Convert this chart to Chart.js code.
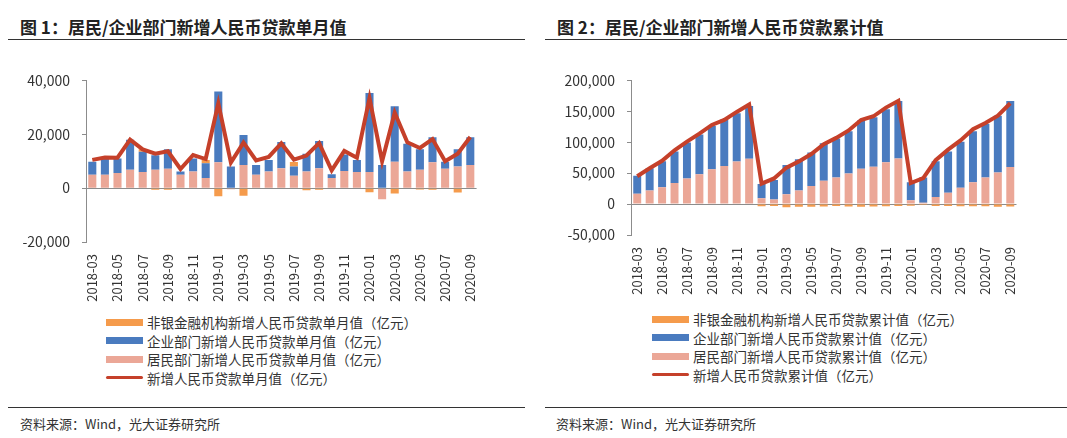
<!DOCTYPE html>
<html lang="zh-CN">
<head>
<meta charset="UTF-8">
<title>居民/企业部门新增人民币贷款</title>
<script src="https://cdn.jsdelivr.net/npm/chart.js"></script>
<style>
  body { margin:0; width:1067px; height:438px; background:#fff; position:relative; overflow:hidden;
         font-family:"Noto Sans CJK SC","Noto Sans",sans-serif; color:#333; }
  .title { position:absolute; top:16px; font-size:17px; font-weight:bold; color:#222; white-space:nowrap; line-height:22px; }
  .rule { position:absolute; height:0; border-top:1.5px solid #333; }
  canvas { position:absolute; }
  .legend { position:absolute; font-size:13.5px; color:#333; }
  .legend .item { display:flex; align-items:center; height:18.5px; white-space:nowrap; }
  .legend .sw { display:inline-block; width:37px; margin-right:4px; }
  .src { position:absolute; top:415px; font-size:13px; line-height:18px; color:#333; }
</style>
</head>
<body>
<div class="title" style="left:20px">图 1：居民/企业部门新增人民币贷款单月值</div>
<div class="rule" style="left:8px; width:517px; top:39px"></div>
<div class="title" style="left:557px">图 2：居民/企业部门新增人民币贷款累计值</div>
<div class="rule" style="left:545px; width:522px; top:39px"></div>

<canvas id="chart1" width="470" height="252" style="left:20px; top:60px"></canvas>
<canvas id="chart2" width="475" height="245" style="left:555px; top:60px"></canvas>

<div class="legend" id="legend1" style="left:106px; top:313px"></div>
<div class="legend" id="legend2" style="left:652px; top:310px"></div>

<div class="rule" style="left:8px; width:517px; top:407px"></div>
<div class="rule" style="left:545px; width:522px; top:407px"></div>
<div class="src" style="left:20px">资料来源：Wind，光大证券研究所</div>
<div class="src" style="left:556px">资料来源：Wind，光大证券研究所</div>

<script>
const months = ['2018-03','2018-04','2018-05','2018-06','2018-07','2018-08','2018-09','2018-10','2018-11','2018-12',
  '2019-01','2019-02','2019-03','2019-04','2019-05','2019-06','2019-07','2019-08','2019-09','2019-10','2019-11','2019-12',
  '2020-01','2020-02','2020-03','2020-04','2020-05','2020-06','2020-07','2020-08','2020-09'];

// 单月值（亿元）
const householdMonthly = [5000, 5000, 5600, 6800, 6000, 6800, 7200, 5000, 6200, 3800,
  9600, -400, 8600, 5000, 6200, 7400, 4600, 6200, 7400, 3800, 6400, 6000,
  6000, -4100, 9800, 6200, 6800, 9600, 7200, 8000, 8600];
const enterpriseMonthly = [4800, 6000, 5400, 11200, 7500, 5400, 7200, 1200, 4800, 5400,
  26300, 8000, 11100, 3600, 4200, 9700, 3400, 6600, 10100, 1400, 6100, 4400,
  29300, 8600, 20600, 10300, 7600, 9300, 2600, 6400, 10300];
const nonbankMonthly = [0, 0, 0, 0, 900, -600, -600, 0, 0, 1200,
  -3000, 0, -2800, 0, 0, 0, 1700, -800, -600, 0, 0, 0,
  -1500, 0, -2000, 0, -500, -600, 0, -1600, 0];
const totalMonthly = [10500, 11400, 11300, 18000, 14400, 12800, 13700, 7100, 12300, 10800,
  31500, 9500, 16900, 10300, 11600, 16600, 10600, 12100, 16700, 6600, 13800, 11300,
  33400, 10000, 28000, 17000, 14900, 18200, 10000, 12800, 19000];

// 累计值（亿元）
const householdCum = [16800, 22000, 27300, 34200, 41500, 48400, 56200, 61500, 68900, 73100,
  9500, 7400, 15800, 22000, 29400, 37800, 43100, 49400, 57300, 60500, 67800, 73600,
  6300, 2000, 11600, 18400, 26300, 35200, 43100, 51000, 59900];
const enterpriseCum = [28900, 35800, 42100, 51000, 57900, 64100, 70000, 75200, 77800, 85700,
  23100, 31500, 47300, 50500, 54000, 60500, 63100, 68400, 77800, 79900, 85700, 93000,
  28900, 41100, 57800, 66800, 74600, 82600, 86700, 92000, 106700];
const nonbankCum = [0, 0, 0, 0, 0, 0, 0, 0, 0, 0,
  -3500, -3000, -5000, -4500, -4500, -4000, -3000, -4000, -4500, -4000, -3500, -3000,
  -2500, -1500, -3000, -3000, -3500, -3500, -3500, -4500, -4000];
const totalCum = [45000, 58000, 70000, 87000, 101000, 114000, 128000, 136000, 149000, 161000,
  33000, 41500, 59000, 69000, 81000, 97000, 107000, 119000, 136000, 142000, 156000, 167000,
  34000, 42000, 71000, 88000, 103000, 121000, 131000, 143000, 163000];

const BLUE = '#4a7bbf', PINK = '#eba797', ORANGE = '#f59b4c', RED = '#c5402a';
const AXIS = '#8c8c8c';
Chart.defaults.font.family = '"Noto Sans CJK SC", "Noto Sans", sans-serif';
Chart.defaults.color = '#333';

function makeChart(id, suffix, total, house, ent, nonbank, yMin, yMax, step, yWidth, padRight) {
  const datasets = [
    { type: 'line', label: '新增人民币贷款' + suffix + '（亿元）', data: total, stack: 'line',
      borderColor: RED, backgroundColor: RED, borderWidth: 4, pointRadius: 0, tension: 0 },
    { type: 'bar', label: '居民部门新增人民币贷款' + suffix + '（亿元）', data: house, stack: 'bars', backgroundColor: PINK },
    { type: 'bar', label: '企业部门新增人民币贷款' + suffix + '（亿元）', data: ent, stack: 'bars', backgroundColor: BLUE },
    { type: 'bar', label: '非银金融机构新增人民币贷款' + suffix + '（亿元）', data: nonbank, stack: 'bars', backgroundColor: ORANGE }
  ];
  datasets.forEach(d => { if (d.type === 'bar') { d.barPercentage = 0.64; d.categoryPercentage = 1; } });
  return new Chart(document.getElementById(id), {
    data: { labels: months, datasets: datasets },
    options: {
      responsive: false,
      animation: false,
      layout: { padding: { top: 17, right: padRight, left: 0, bottom: 0 } },
      plugins: { legend: { display: false }, tooltip: { enabled: false } },
      scales: {
        x: {
          stacked: true,
          grid: { display: false },
          border: { display: false },
          afterFit: s => { s.height = 70; },
          ticks: {
            autoSkip: false, maxRotation: 90, minRotation: 90, padding: 4,
            font: { size: 13 }, color: '#333',
            callback: (v, i) => i % 2 === 0 ? months[i] : ''
          }
        },
        y: {
          stacked: true,
          min: yMin, max: yMax,
          afterFit: s => { s.width = yWidth; },
          border: { display: true, color: AXIS, width: 1 },
          grid: {
            color: c => c.tick && c.tick.value === 0 ? AXIS : 'rgba(0,0,0,0)',
            tickColor: AXIS, tickLength: 4, lineWidth: 1
          },
          ticks: {
            stepSize: step, padding: 12, font: { size: 14 }, color: '#333',
            callback: v => v.toLocaleString('en-US')
          }
        }
      }
    }
  });
}

function buildLegend(elId, chart) {
  const el = document.getElementById(elId);
  const ds = chart.data.datasets;
  [ds[3], ds[2], ds[1], ds[0]].forEach(d => {
    const row = document.createElement('div');
    row.className = 'item';
    const sw = document.createElement('span');
    sw.className = 'sw';
    sw.style.background = d.backgroundColor;
    sw.style.height = d.type === 'line' ? '3px' : '7px';
    if (d.type === 'line') sw.style.borderRadius = '2px';
    row.appendChild(sw);
    row.appendChild(document.createTextNode(d.label));
    el.appendChild(row);
  });
}

const c1 = makeChart('chart1', '单月值', totalMonthly, householdMonthly, enterpriseMonthly, nonbankMonthly,
  -20000, 40000, 20000, 66, 6);
const c2 = makeChart('chart2', '累计值', totalCum, householdCum, enterpriseCum, nonbankCum,
  -50000, 200000, 50000, 76, 8);
buildLegend('legend1', c1);
buildLegend('legend2', c2);
</script>
</body>
</html>
